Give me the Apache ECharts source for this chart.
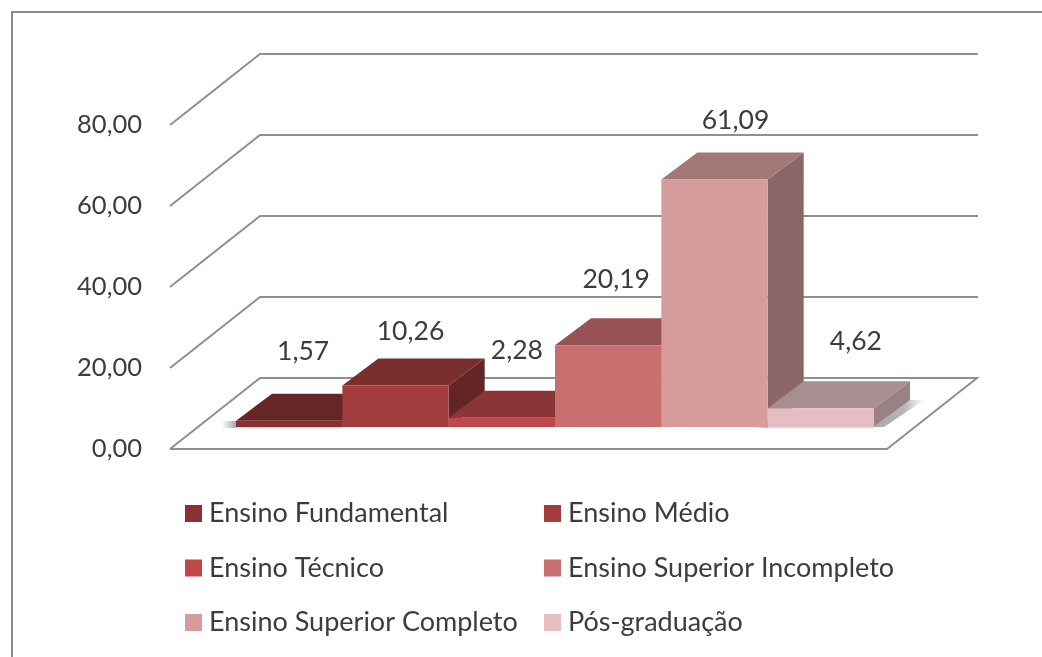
<!DOCTYPE html>
<html>
<head>
<meta charset="utf-8">
<style>html,body{margin:0;padding:0;background:#fff}#c{width:1042px;height:657px;filter:blur(0.5px)}</style>
<script src="https://cdn.jsdelivr.net/npm/echarts@6/dist/echarts.min.js"></script>
</head>
<body>
<div id="c"></div>
<script>
const categories = ['Ensino Fundamental','Ensino Médio','Ensino Técnico','Ensino Superior Incompleto','Ensino Superior Completo','Pós-graduação'];
const values = [1.57,10.26,2.28,20.19,61.09,4.62];
const yTicks = [0,20,40,60,80];
const frontColors = ['#8c2f31','#a33c3c','#bd4848','#c96f6f','#d69c9c','#e5bdc2'];
const topColors   = ['#662626','#7a2e2e','#8a3636','#975353','#a37878','#a98e91'];
const sideColors  = ['#552020','#632525','#702c2c','#7d4545','#8a6666','#998184'];
const legendLeft  = ['Ensino Fundamental','Ensino Técnico','Ensino Superior Completo'];
const legendRight = ['Ensino Médio','Ensino Superior Incompleto','Pós-graduação'];

// layout of the fake 3D projection, in pixels
const FLOOR = {dx:90, dy:-71};          // depth of walls/floor
const DEPTH = {dx:36, dy:-27};          // depth of each bar
const BASE_LIFT = 22;                   // bar front sits this far above the floor's front edge
const labelShift = [[14,-69],[15,-54],[15,-67],[8,-66],[21,-59],[35,-67]];
const TEXT = '#3c3c3c', FONT = 'Lato';

const fmt = v => v.toFixed(2).replace('.', ',');

function renderGrid(params, api){
  const cs = params.coordSys, y = api.coord([0, api.value(0)])[1];
  const fl = cs.x - 66, fr = cs.x + 651;
  const line = {stroke:'#8f8f8f', lineWidth:2, fill:null};
  const pts = api.value(0) === 0
    ? [[fl,y],[fl+FLOOR.dx,y+FLOOR.dy],[fr+FLOOR.dx,y+FLOOR.dy],[fr,y],[fl,y]]
    : [[fl,y],[fl+FLOOR.dx,y+FLOOR.dy],[fr+FLOOR.dx+1,y+FLOOR.dy]];
  return {type:'polyline', shape:{points:pts}, style:line, silent:true};
}

function renderShadow(params, api){
  const idx = api.value(0), c = api.coord([idx,0]), w = api.size([1,0])[0];
  const l = c[0]-w/2, r = c[0]+w/2, y = c[1]-BASE_LIFT;
  return {type:'group', silent:true, children:[
    {type:'polygon', shape:{points:[[r,y],[r+DEPTH.dx,y+DEPTH.dy],[r+DEPTH.dx+14,y+DEPTH.dy],[r+10,y]]},
      style:{fill:{type:'linear',x:0,y:0,x2:1,y2:0,colorStops:[{offset:0,color:'#a8a8a8'},{offset:.6,color:'#b4b6b5'},{offset:1,color:'#ffffff'}]}}},
    {type:'rect', shape:{x:l-14,y:y-6,width:16,height:7},
      style:{fill:{type:'linear',x:0,y:0,x2:1,y2:0,colorStops:[{offset:0,color:'#ffffff'},{offset:1,color:'#9a9a9a'}]}}},
    {type:'rect', shape:{x:l,y:y,width:r-l,height:2},
      style:{fill:{type:'linear',x:0,y:0,x2:0,y2:1,colorStops:[{offset:0,color:'#d0d0d0'},{offset:1,color:'#ffffff'}]}}}
  ]};
}

function renderBar(i){
  return function(params, api){
    const idx = api.value(0), v = api.value(1);
    const c0 = api.coord([idx,0]), c1 = api.coord([idx,v]), w = api.size([1,0])[0];
    const l = c0[0]-w/2, r = c0[0]+w/2, b = c0[1]-BASE_LIFT, t = c1[1]-BASE_LIFT;
    const d = DEPTH;
    return {type:'group', children:[
      {type:'polygon', shape:{points:[[r,t],[r+d.dx,t+d.dy],[r+d.dx,b+d.dy],[r,b]]}, style:{fill:sideColors[i]}},
      {type:'polygon', shape:{points:[[l,t],[l+d.dx,t+d.dy],[r+d.dx,t+d.dy],[r,t]]}, style:{fill:topColors[i]}},
      {type:'rect', shape:{x:l,y:t,width:w,height:b-t}, style:{fill:frontColors[i]}},
      {type:'text', z2:100, style:{text:fmt(v), x:c0[0]+labelShift[i][0], y:t+labelShift[i][1], align:'center', verticalAlign:'middle',
        fill:TEXT, font:'26.5px '+FONT}}
    ]};
  };
}

const chart = echarts.init(document.getElementById('c'), null, {renderer:'canvas'});
const commonLegend = {orient:'vertical', itemWidth:17, itemHeight:17, itemGap:27.5, icon:'rect',
  textStyle:{fontFamily:FONT, fontSize:27, lineHeight:26, color:TEXT, padding:[0,0,0,2]}, selectedMode:false, padding:0};
chart.setOption({
  animation:false,
  backgroundColor:'#ffffff',
  grid:{left:236, right:168, top:125, bottom:208, containLabel:false},
  xAxis:{type:'category', data:categories, show:false, boundaryGap:true},
  yAxis:{type:'value', min:0, max:80, interval:20, offset:66,
    axisLine:{show:false}, axisTick:{show:false}, splitLine:{show:false},
    axisLabel:{margin:28, fontFamily:FONT, fontSize:25.5, color:TEXT, formatter:v=>fmt(v)}},
  legend:[
    Object.assign({left:185, top:500, data:legendLeft}, commonLegend),
    Object.assign({left:544, top:500, data:legendRight}, commonLegend)
  ],
  graphic:[{type:'polyline', silent:true, shape:{points:[[12,657],[12,12],[1042,12]]}, style:{stroke:'#8c8c8c', lineWidth:2, fill:null}}],
  series:[
    {type:'custom', name:'grade', renderItem:renderGrid, data:yTicks.map(v=>[v]), encode:{y:0}, silent:true, tooltip:{show:false}},
    {type:'custom', name:'sombra', renderItem:renderShadow, data:[[0,0],[5,0]], silent:true}
  ].concat(categories.map((name,i)=>({
    type:'custom', name, renderItem:renderBar(i), itemStyle:{color:frontColors[i]},
    data:[[i, values[i]]], encode:{x:0,y:1}
  })))
});
</script>
</body>
</html>
